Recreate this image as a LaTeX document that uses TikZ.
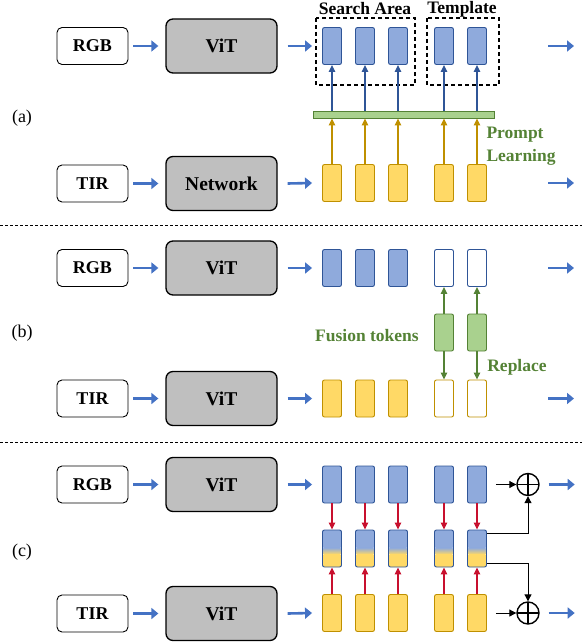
\documentclass[tikz,border=0pt]{standalone}
\usepackage{fontspec}
\setmainfont{Liberation Serif}
\usetikzlibrary{arrows.meta,calc}
\definecolor{blueF}{HTML}{8FAADC}
\definecolor{blueD}{HTML}{2F5597}
\definecolor{blueA}{HTML}{4472C4}
\definecolor{yelF}{HTML}{FFD966}
\definecolor{yelD}{HTML}{BF9000}
\definecolor{grnF}{HTML}{A9D18E}
\definecolor{grnD}{HTML}{548235}
\definecolor{vitF}{HTML}{BFBFBF}
\definecolor{redA}{HTML}{C8102E}
\begin{document}
\begin{tikzpicture}[x=1pt,y=-1pt,
 inbox/.style={draw,line width=0.9pt,rounded corners=5pt,minimum width=71pt,minimum height=37pt,inner sep=0pt,font=\fontsize{18}{20}\selectfont\bfseries},
 vitbox/.style={draw,line width=1.3pt,fill=vitF,rounded corners=7pt,minimum width=111pt,minimum height=54pt,inner sep=0pt,font=\fontsize{19.5}{22}\selectfont\bfseries},
 tok/.style={rounded corners=2pt,minimum width=19pt,minimum height=37pt,inner sep=0pt,line width=0.9pt},
 tokB/.style={tok,draw=blueD,fill=blueF},
 tokY/.style={tok,draw=yelD,fill=yelF},
 tokG/.style={tok,draw=grnD,fill=grnF},
 tokBW/.style={tok,draw=blueD,fill=white},
 tokYW/.style={tok,draw=yelD,fill=white},
 tokM/.style={tok,draw=blueD,path picture={
   \fill[blueF] (path picture bounding box.north west) rectangle ($(path picture bounding box.north east)!0.49!(path picture bounding box.south east)$);
   \shade[top color=blueF,bottom color=yelF] ($(path picture bounding box.north west)!0.48!(path picture bounding box.south west)$) rectangle ($(path picture bounding box.north east)!0.66!(path picture bounding box.south east)$);
   \fill[yelF] ($(path picture bounding box.north west)!0.65!(path picture bounding box.south west)$) rectangle (path picture bounding box.south east);}},
 barrow/.style={line width=2.6pt,blueA,-{Triangle[length=7pt,width=11pt]}},
 tarrow/.style={line width=1.1pt,-{Triangle[length=7pt,width=6.5pt]}},
 karrow/.style={line width=1pt,black,-{Triangle[length=7pt,width=7pt]}},
 sep/.style={line width=0.8pt,dash pattern=on 3pt off 2pt},
 dbox/.style={draw,line width=1.2pt,dash pattern=on 4pt off 3pt},
 lbl/.style={font=\fontsize{17.5}{23}\selectfont\bfseries},
 glbl/.style={lbl,text=grnD},
 plbl/.style={font=\fontsize{18}{20}\selectfont},
 opl/.style={circle,draw,line width=1.4pt,minimum size=22pt,inner sep=0pt,path picture={
   \draw[line width=1.4pt] (path picture bounding box.north) -- (path picture bounding box.south);
   \draw[line width=1.4pt] (path picture bounding box.west) -- (path picture bounding box.east);}}
]
\useasboundingbox (0,0) rectangle (582,642);

% ---------------- panel (a)
\node[plbl] (la) at (22,118) {(a)};
\node[inbox] (rgbA) at (92.5,46) {RGB};
\node[vitbox] (vitA) at (221.5,46) {ViT};
\node[inbox] (tirA) at (92.5,183.5) {TIR};
\node[vitbox] (netA) at (221.5,183.5) {Network};
\draw[dbox] (316,18) rectangle (415,85);
\draw[dbox] (427,18) rectangle (499,85);
\node[lbl] (sa) at (365,9) {Search Area};
\node[lbl] (tp) at (462,9) {Template};
\node[draw=grnD,fill=grnF,line width=0.9pt,minimum width=181pt,minimum height=7pt,inner sep=0pt] (bar) at (403.5,114.5) {};
\foreach \i/\x in {1/332,2/365,3/398,4/444,5/477}{
  \node[tokB] (tA\i) at (\x,46) {};
  \node[tokY] (bA\i) at (\x,183) {};
  \draw[tarrow,blueD] (tA\i.south |- bar.north) -- (tA\i.south);
  \draw[tarrow,yelD] (bA\i.north) -- (bA\i.north |- bar.south);
}
\node[glbl,anchor=west,align=left] (pl) at (483,146) {Prompt\\Learning};
\draw[barrow,shorten <=5pt,shorten >=7pt] (rgbA) -- (vitA);
\draw[barrow,shorten <=5pt,shorten >=7pt] (tirA) -- (netA);
\draw[barrow] ([xshift=10pt]vitA.east) -- ([xshift=-10pt]tA1.west);
\draw[barrow] ([xshift=10pt]netA.east) -- ([xshift=-10pt]bA1.west);
\coordinate (oa1) at (548,46); \coordinate (oa1e) at (574,46);
\coordinate (oa2) at (548,183); \coordinate (oa2e) at (574,183);
\draw[barrow] (oa1) -- (oa1e);
\draw[barrow] (oa2) -- (oa2e);

\coordinate (s1a) at (0,225); \coordinate (s1b) at (582,225);
\draw[sep] (s1a) -- (s1b);

% ---------------- panel (b)
\node[plbl] (lb) at (22,333) {(b)};
\node[inbox] (rgbB) at (92.5,268) {RGB};
\node[vitbox] (vitB) at (221.5,268) {ViT};
\node[inbox] (tirB) at (92.5,398.5) {TIR};
\node[vitbox] (vitB2) at (221.5,398.5) {ViT};
\foreach \i/\x in {1/332,2/365,3/398}{
  \node[tokB] (tB\i) at (\x,268) {};
  \node[tokY] (bB\i) at (\x,398.5) {};
}
\foreach \i/\x in {4/444,5/477}{
  \node[tokBW] (tB\i) at (\x,268) {};
  \node[tokYW] (bB\i) at (\x,398.5) {};
  \node[tokG] (fB\i) at (\x,332.5) {};
  \draw[tarrow,grnD] (fB\i.north) -- (tB\i.south);
  \draw[tarrow,grnD] (fB\i.south) -- (bB\i.north);
}
\node[glbl] (ft) at (367,336) {Fusion tokens};
\node[glbl] (rp) at (517,367) {Replace};
\draw[barrow,shorten <=5pt,shorten >=7pt] (rgbB) -- (vitB);
\draw[barrow,shorten <=5pt,shorten >=7pt] (tirB) -- (vitB2);
\draw[barrow] ([xshift=10pt]vitB.east) -- ([xshift=-10pt]tB1.west);
\draw[barrow] ([xshift=10pt]vitB2.east) -- ([xshift=-10pt]bB1.west);
\coordinate (ob1) at (548,268); \coordinate (ob1e) at (574,268);
\coordinate (ob2) at (548,398.5); \coordinate (ob2e) at (574,398.5);
\draw[barrow] (ob1) -- (ob1e);
\draw[barrow] (ob2) -- (ob2e);

\coordinate (s2a) at (0,442); \coordinate (s2b) at (582,442);
\draw[sep] (s2a) -- (s2b);

% ---------------- panel (c)
\node[plbl] (lc) at (22,552) {(c)};
\node[inbox] (rgbC) at (92.5,484.5) {RGB};
\node[vitbox] (vitC) at (221.5,484.5) {ViT};
\node[inbox] (tirC) at (92.5,613.5) {TIR};
\node[vitbox] (vitC2) at (221.5,613.5) {ViT};
\foreach \i/\x in {1/332,2/365,3/398,4/444,5/477}{
  \node[tokB] (tC\i) at (\x,484.5) {};
  \node[tokM] (mC\i) at (\x,548.5) {};
  \node[tokY] (bC\i) at (\x,613) {};
  \draw[tarrow,redA] (tC\i.south) -- (mC\i.north);
  \draw[tarrow,redA] (bC\i.north) -- (mC\i.south);
}
\node[opl] (op1) at (528,484.5) {};
\node[opl] (op2) at (528,613) {};
\draw[karrow] ([xshift=9pt]tC5.east) -- (op1.west);
\draw[karrow] ([xshift=9pt]bC5.east) -- (op2.west);
\draw[karrow] ([yshift=-4pt]mC5.north east) -| (op1.south);
\draw[karrow] ([yshift=4pt]mC5.south east) -| (op2.north);
\draw[barrow,shorten <=5pt,shorten >=7pt] (rgbC) -- (vitC);
\draw[barrow,shorten <=5pt,shorten >=7pt] (tirC) -- (vitC2);
\draw[barrow] ([xshift=10pt]vitC.east) -- ([xshift=-10pt]tC1.west);
\draw[barrow] ([xshift=10pt]vitC2.east) -- ([xshift=-10pt]bC1.west);
\draw[barrow] ([xshift=9pt]op1.east) -- ++(26,0);
\draw[barrow] ([xshift=9pt]op2.east) -- ++(26,0);
\end{tikzpicture}
\end{document}
